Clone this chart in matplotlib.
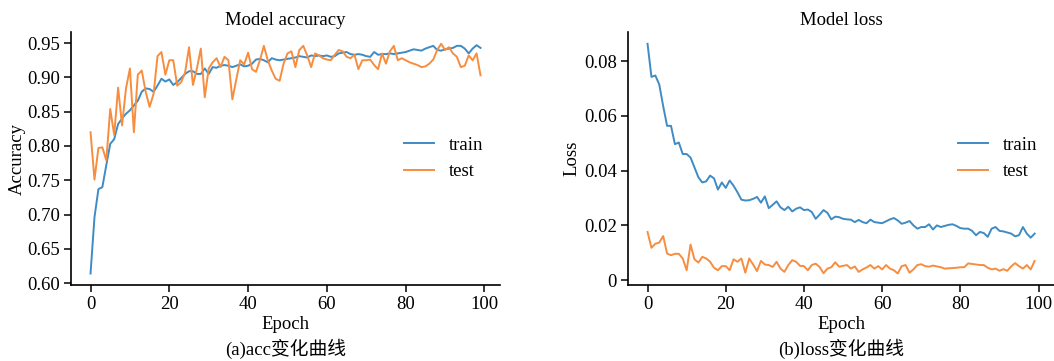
import numpy as np
import matplotlib.pyplot as plt

# DATA ###############################################################
epochs = np.arange(100)

acc_train = [0.614, 0.696, 0.737, 0.740, 0.772, 0.803, 0.810, 0.832, 0.840, 0.847,
             0.852, 0.859, 0.866, 0.879, 0.884, 0.883, 0.879, 0.888, 0.898, 0.894,
             0.897, 0.889, 0.893, 0.899, 0.905, 0.909, 0.909, 0.905, 0.905, 0.913,
             0.905, 0.915, 0.914, 0.917, 0.918, 0.917, 0.915, 0.917, 0.919, 0.916,
             0.917, 0.920, 0.926, 0.927, 0.925, 0.922, 0.928, 0.926, 0.925, 0.926,
             0.927, 0.928, 0.929, 0.931, 0.930, 0.929, 0.932, 0.931, 0.932, 0.931,
             0.932, 0.930, 0.931, 0.935, 0.936, 0.937, 0.934, 0.933, 0.934, 0.933,
             0.931, 0.930, 0.937, 0.933, 0.934, 0.934, 0.935, 0.934, 0.935, 0.936,
             0.937, 0.939, 0.941, 0.940, 0.939, 0.942, 0.944, 0.946, 0.940, 0.939,
             0.941, 0.942, 0.943, 0.946, 0.946, 0.942, 0.935, 0.942, 0.947, 0.943]

acc_test = [0.820, 0.751, 0.797, 0.798, 0.779, 0.854, 0.816, 0.885, 0.830, 0.884,
            0.913, 0.820, 0.904, 0.910, 0.879, 0.857, 0.876, 0.931, 0.937, 0.904,
            0.925, 0.925, 0.888, 0.893, 0.907, 0.944, 0.889, 0.913, 0.942, 0.871,
            0.913, 0.922, 0.928, 0.915, 0.930, 0.925, 0.868, 0.897, 0.925, 0.919,
            0.936, 0.912, 0.908, 0.925, 0.946, 0.925, 0.910, 0.898, 0.895, 0.920,
            0.935, 0.938, 0.915, 0.940, 0.946, 0.932, 0.915, 0.935, 0.932, 0.928,
            0.926, 0.925, 0.933, 0.940, 0.938, 0.930, 0.928, 0.933, 0.912, 0.925,
            0.925, 0.926, 0.918, 0.912, 0.935, 0.920, 0.938, 0.946, 0.925, 0.928,
            0.925, 0.922, 0.920, 0.918, 0.915, 0.916, 0.920, 0.926, 0.940, 0.949,
            0.940, 0.944, 0.935, 0.930, 0.915, 0.917, 0.932, 0.925, 0.935, 0.903]

loss_train = [0.0864, 0.0743, 0.0748, 0.0715, 0.0636, 0.0564, 0.0564, 0.0497, 0.0503, 0.0461,
              0.0461, 0.0448, 0.0412, 0.0376, 0.0357, 0.0361, 0.0382, 0.0372, 0.0331, 0.0357,
              0.0337, 0.0364, 0.0345, 0.0321, 0.0294, 0.0291, 0.0292, 0.0297, 0.0304, 0.0283,
              0.0306, 0.0263, 0.0275, 0.0288, 0.0266, 0.0256, 0.0268, 0.0251, 0.0261, 0.0266,
              0.0256, 0.0258, 0.0249, 0.0224, 0.0239, 0.0256, 0.0246, 0.0222, 0.0232, 0.0230,
              0.0224, 0.0222, 0.0221, 0.0212, 0.0220, 0.0212, 0.0208, 0.0221, 0.0212, 0.0210,
              0.0208, 0.0215, 0.0222, 0.0227, 0.0218, 0.0206, 0.0210, 0.0216, 0.0200, 0.0188,
              0.0194, 0.0194, 0.0204, 0.0185, 0.0200, 0.0194, 0.0198, 0.0202, 0.0204, 0.0198,
              0.0190, 0.0188, 0.0188, 0.0180, 0.0164, 0.0176, 0.0172, 0.0158, 0.0188, 0.0194,
              0.0180, 0.0178, 0.0174, 0.0170, 0.0160, 0.0164, 0.0194, 0.0170, 0.0155, 0.0170]

loss_test = [0.0176, 0.0118, 0.0133, 0.0137, 0.0161, 0.0097, 0.0091, 0.0096, 0.0096, 0.0079,
             0.0036, 0.0130, 0.0076, 0.0064, 0.0085, 0.0079, 0.0067, 0.0045, 0.0036, 0.0051,
             0.0051, 0.0036, 0.0076, 0.0067, 0.0079, 0.0027, 0.0079, 0.0057, 0.0033, 0.0070,
             0.0057, 0.0055, 0.0048, 0.0067, 0.0042, 0.0030, 0.0055, 0.0073, 0.0067, 0.0052,
             0.0051, 0.0036, 0.0055, 0.0060, 0.0048, 0.0025, 0.0042, 0.0047, 0.0065, 0.0049,
             0.0052, 0.0055, 0.0042, 0.0050, 0.0030, 0.0039, 0.0046, 0.0055, 0.0042, 0.0051,
             0.0039, 0.0055, 0.0042, 0.0036, 0.0024, 0.0051, 0.0055, 0.0027, 0.0039, 0.0055,
             0.0058, 0.0051, 0.0049, 0.0053, 0.0050, 0.0047, 0.0042, 0.0043, 0.0044, 0.0045,
             0.0047, 0.0047, 0.0061, 0.0059, 0.0057, 0.0055, 0.0055, 0.0045, 0.0039, 0.0042,
             0.0034, 0.0040, 0.0034, 0.0050, 0.0062, 0.0051, 0.0042, 0.0055, 0.0039, 0.0070]

acc_ticks = [0.60, 0.65, 0.70, 0.75, 0.80, 0.85, 0.90, 0.95]
loss_ticks = [0, 0.02, 0.04, 0.06, 0.08]
loss_tick_labels = ["0", "0.02", "0.04", "0.06", "0.08"]
x_ticks = [0, 20, 40, 60, 80, 100]

# STYLE ##############################################################
FS = 13.5
plt.rcParams['font.family'] = ['Liberation Serif', 'Noto Sans CJK SC']
plt.rcParams['font.size'] = FS
C_TRAIN = '#3f8bc4'
C_TEST = '#f78d3f'

fig = plt.figure(figsize=(10.54, 3.61), dpi=100)
ax1 = fig.add_axes([0.0674, 0.2105, 0.407, 0.700])
ax2 = fig.add_axes([0.596, 0.2105, 0.404, 0.700])


def style_axes(ax):
    ax.spines['top'].set_visible(False)
    ax.spines['right'].set_visible(False)
    ax.spines['left'].set_linewidth(1.2)
    ax.spines['bottom'].set_linewidth(1.2)
    ax.tick_params(direction='out', length=5, width=1.1, labelsize=FS, pad=3)
    ax.set_xticks(x_ticks)


# ACCURACY ###########################################################
ax1.plot(epochs, acc_train, color=C_TRAIN, lw=1.4, label='train')
ax1.plot(epochs, acc_test, color=C_TEST, lw=1.4, label='test')
ax1.set_title('Model accuracy', fontsize=FS, pad=5)
ax1.set_ylabel('Accuracy', fontsize=FS, labelpad=1)
ax1.set_xlabel('Epoch', fontsize=FS, labelpad=2)
ax1.set_yticks(acc_ticks)
ax1.set_yticklabels(['%.2f' % t for t in acc_ticks])
style_axes(ax1)
ax1.legend(loc='center right', frameon=False, fontsize=FS, handlelength=1.6,
           handletextpad=0.8)

# LOSS ###############################################################
ax2.plot(epochs, loss_train, color=C_TRAIN, lw=1.4, label='train')
ax2.plot(epochs, loss_test, color=C_TEST, lw=1.4, label='test')
ax2.set_title('Model loss', fontsize=FS, pad=5)
ax2.set_ylabel('Loss', fontsize=FS, labelpad=3)
ax2.set_xlabel('Epoch', fontsize=FS, labelpad=2)
ax2.set_yticks(loss_ticks)
ax2.set_yticklabels(loss_tick_labels)
style_axes(ax2)
ax2.legend(loc='center right', frameon=False, fontsize=FS, handlelength=1.6,
           handletextpad=0.8)

# Captions
fig.text(0.271, 0.018, '(a)acc变化曲线', ha='center', fontsize=FS)
fig.text(0.798, 0.018, '(b)loss变化曲线', ha='center', fontsize=FS)

plt.savefig('out.png', dpi=100)
